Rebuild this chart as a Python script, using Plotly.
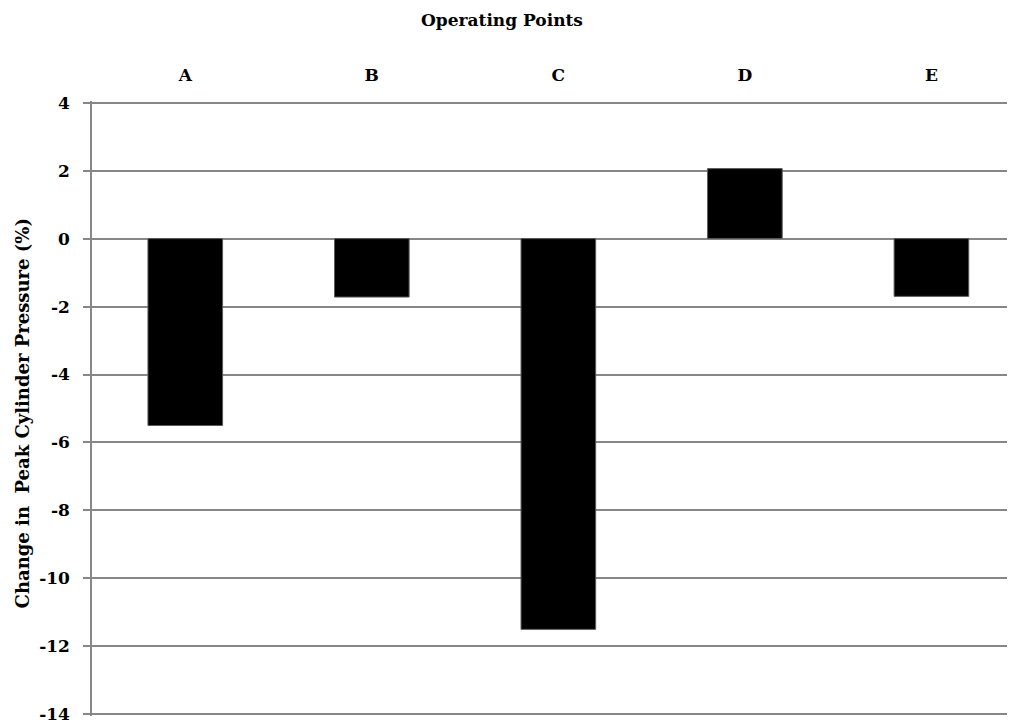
import plotly.graph_objects as go

points = ["A", "B", "C", "D", "E"]
change = [-5.5, -1.72, -11.5, 2.06, -1.7]
y_ticks = [4, 2, 0, -2, -4, -6, -8, -10, -12, -14]
y_labels = ["4", "2", "0", "-2", "-4", "-6", "-8", "-10", "-12", "-14"]

font = "DejaVu Serif"
grey = "#878787"

fig = go.Figure()
fig.add_trace(go.Bar(x=points, y=change, marker=dict(color="black", line=dict(color="#5a5a5a", width=1))))

# page body has an 8px margin, so the figure is shifted by that amount;
# y range padded a little so the 4 and -14 gridlines still get drawn
fig.update_layout(
    width=1007,
    height=716,
    margin=dict(l=84, r=0, t=93, b=6),
    paper_bgcolor="white",
    plot_bgcolor="white",
    bargap=0.6,
    showlegend=False,
    font=dict(family=font, size=17, color="black"),
    title={
        'text': "<b>Operating Points</b>",
        'xref': 'container',
        'yref': 'container',
        'x': 494 / 1007,
        'y': 1 - 12 / 716,
        'xanchor': 'center',
        'yanchor': 'middle',
        'font': {'family': font, 'size': 17, 'color': 'black'},
    },
    xaxis={
        'side': 'top',
        'range': [-0.5, 4.448],
        'showgrid': False,
        'showline': False,
        'ticks': '',
        'ticklabelstandoff': 16,
        'tickfont': {'family': font, 'size': 17, 'color': 'black', 'weight': 'bold'},
    },
    yaxis={
        'range': [-14.05, 4.05],
        'tickvals': y_ticks,
        'ticktext': y_labels,
        'ticklabeloverflow': 'allow',
        'showgrid': True,
        'gridcolor': grey,
        'gridwidth': 1.5,
        'zeroline': False,
        'showline': True,
        'linecolor': grey,
        'linewidth': 1.5,
        'ticks': 'outside',
        'ticklen': 7,
        'tickcolor': grey,
        'tickwidth': 1.5,
        'ticklabelstandoff': 10,
        'tickfont': {'family': font, 'size': 17, 'color': 'black', 'weight': 'bold'},
    },
)

fig.add_annotation(
    text="<b>Change in  Peak Cylinder Pressure (%)</b>",
    xref="paper", yref="paper",
    x=(22 - 92) / 923, y=0.492,
    xanchor="center", yanchor="middle",
    textangle=-90, showarrow=False,
    font=dict(family=font, size=18, color="black"),
)

fig.write_html("out.html")
